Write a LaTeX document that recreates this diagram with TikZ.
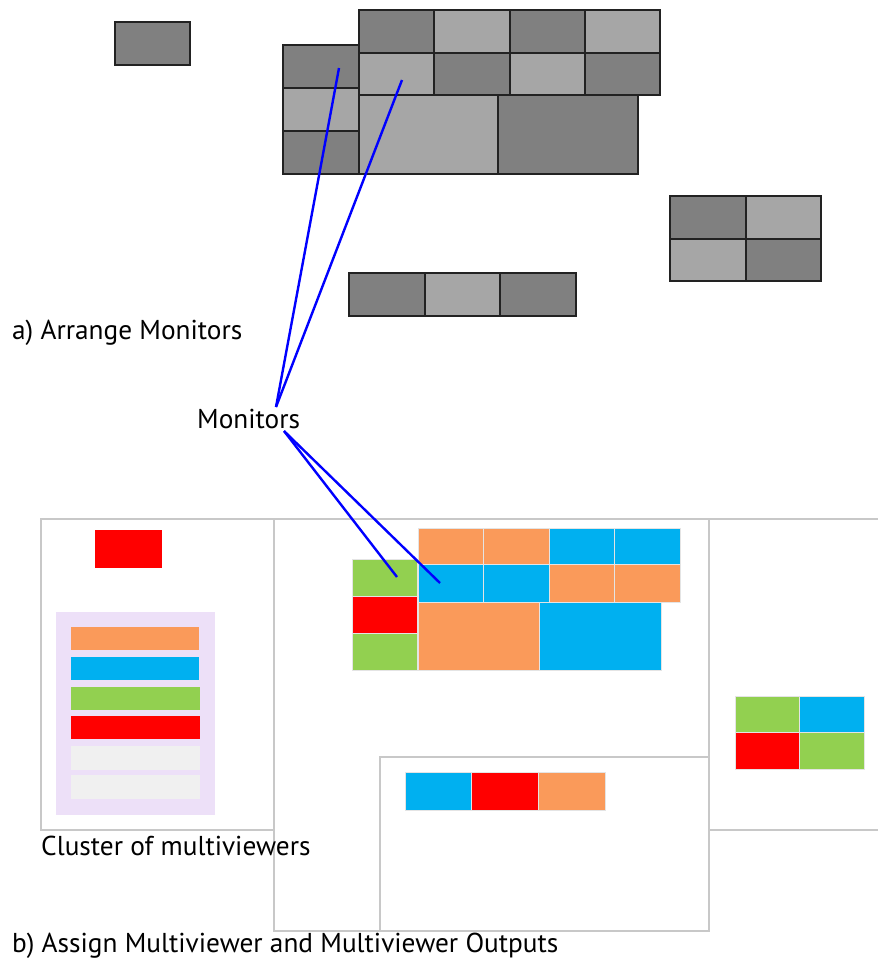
\documentclass[tikz,border=0pt]{standalone}
\usepackage{fontspec}
\setmainfont{PT Sans}
\definecolor{gdark}{RGB}{128,128,128}
\definecolor{glight}{RGB}{166,166,166}
\definecolor{gedge}{RGB}{34,34,34}
\definecolor{corange}{RGB}{250,154,90}
\definecolor{cblue}{RGB}{0,176,240}
\definecolor{cgreen}{RGB}{146,208,80}
\definecolor{cred}{RGB}{255,0,0}
\definecolor{cgrey}{RGB}{240,240,240}
\definecolor{clav}{RGB}{237,224,248}
\definecolor{cpanel}{RGB}{200,200,200}
\definecolor{cline}{RGB}{0,0,255}
\definecolor{cedge}{RGB}{228,228,228}
\tikzset{
  gcell/.style={draw=gedge,line width=1.3pt},
  ccell/.style={draw=cedge,line width=0.8pt},
  panel/.style={draw=cpanel,line width=1.2pt,fill=white},
  wire/.style={draw=cline,line width=2.4pt},
  lbl/.style={inner sep=0pt,font=\fontsize{27.3}{32}\selectfont}
}
\newcommand{\gc}[5]{\path[gcell,fill=#5] (#1,#2) rectangle (#3,#4);}
\newcommand{\cc}[5]{\path[ccell,fill=#5] (#1,#2) rectangle (#3,#4);}
\begin{document}
\begin{tikzpicture}[x=1pt,y=-1pt]
\useasboundingbox[fill=white] (0,0) rectangle (878,962);
% ---------- a) grey monitors ----------
\gc{115}{22}{190}{65}{gdark}
% left column
\gc{283}{45}{359}{88}{gdark}
\gc{283}{88}{359}{131}{glight}
\gc{283}{131}{359}{174}{gdark}
% top rows
\gc{359}{10}{434}{53}{gdark}
\gc{434}{10}{510}{53}{glight}
\gc{510}{10}{585}{53}{gdark}
\gc{585}{10}{660}{53}{glight}
\gc{359}{53}{434}{95}{glight}
\gc{434}{53}{510}{95}{gdark}
\gc{510}{53}{585}{95}{glight}
\gc{585}{53}{660}{95}{gdark}
% big
\gc{359}{95}{498}{174}{glight}
\gc{498}{95}{638}{174}{gdark}
% right 2x2
\gc{670}{196}{746}{239}{gdark}
\gc{746}{196}{821}{239}{glight}
\gc{670}{239}{746}{281}{glight}
\gc{746}{239}{821}{281}{gdark}
% bottom strip
\gc{349}{273}{425}{316}{gdark}
\gc{425}{273}{500}{316}{glight}
\gc{500}{273}{576}{316}{gdark}
\node[lbl,anchor=base west] (la) at (12,339) {a) Arrange Monitors};
% ---------- b) panels ----------
\path[panel] (41,519) rectangle (274,830);
\path[panel] (709,519) rectangle (890,830);
\path[panel] (274,519) rectangle (709,931);
\path[panel] (380,757) rectangle (709,931);
% left panel
\path[fill=cred] (95,530) rectangle (162,568);
\path[fill=clav] (56,612) rectangle (215,815);
\path[fill=corange] (71,627) rectangle (199,650);
\path[fill=cblue] (71,657) rectangle (199,680);
\path[fill=cgreen] (71,687) rectangle (200,710);
\path[fill=cred] (71,716) rectangle (200,739);
\path[fill=cgrey] (71,746) rectangle (200,770);
\path[fill=cgrey] (71,775) rectangle (200,799);
\node[lbl,anchor=base west] (lc) at (41,855) {Cluster of multiviewers};
% middle panel grid
\cc{352}{559}{417}{596}{cgreen}
\cc{352}{596}{417}{633}{cred}
\cc{352}{633}{417}{670}{cgreen}
\cc{418}{528}{483}{564}{corange}
\cc{483}{528}{549}{564}{corange}
\cc{549}{528}{614}{564}{cblue}
\cc{614}{528}{680}{564}{cblue}
\cc{418}{564}{483}{602}{cblue}
\cc{483}{564}{549}{602}{cblue}
\cc{549}{564}{614}{602}{corange}
\cc{614}{564}{680}{602}{corange}
\cc{418}{602}{539}{670}{corange}
\cc{539}{602}{661}{670}{cblue}
% right panel grid
\cc{735}{696}{799}{732}{cgreen}
\cc{799}{696}{864}{732}{cblue}
\cc{735}{732}{799}{769}{cred}
\cc{799}{732}{864}{769}{cgreen}
% bottom panel strip
\cc{405}{772}{471}{810}{cblue}
\cc{471}{772}{538}{810}{cred}
\cc{538}{772}{605}{810}{corange}
\node[lbl,anchor=base west] (lb) at (12,952) {b) Assign Multiviewer and Multiviewer Outputs};
% ---------- connectors ----------
\node[lbl,anchor=base west] (mon) at (197,428) {Monitors};
\coordinate (mt) at (276,407);
\coordinate (mb) at (284,431);
\coordinate (ga) at (339,68);
\coordinate (gb) at (402,80);
\coordinate (ca) at (397,577);
\coordinate (cb) at (440,583);
\draw[wire] (mt) -- (ga);
\draw[wire] (mt) -- (gb);
\draw[wire] (mb) -- (ca);
\draw[wire] (mb) -- (cb);
\end{tikzpicture}
\end{document}
